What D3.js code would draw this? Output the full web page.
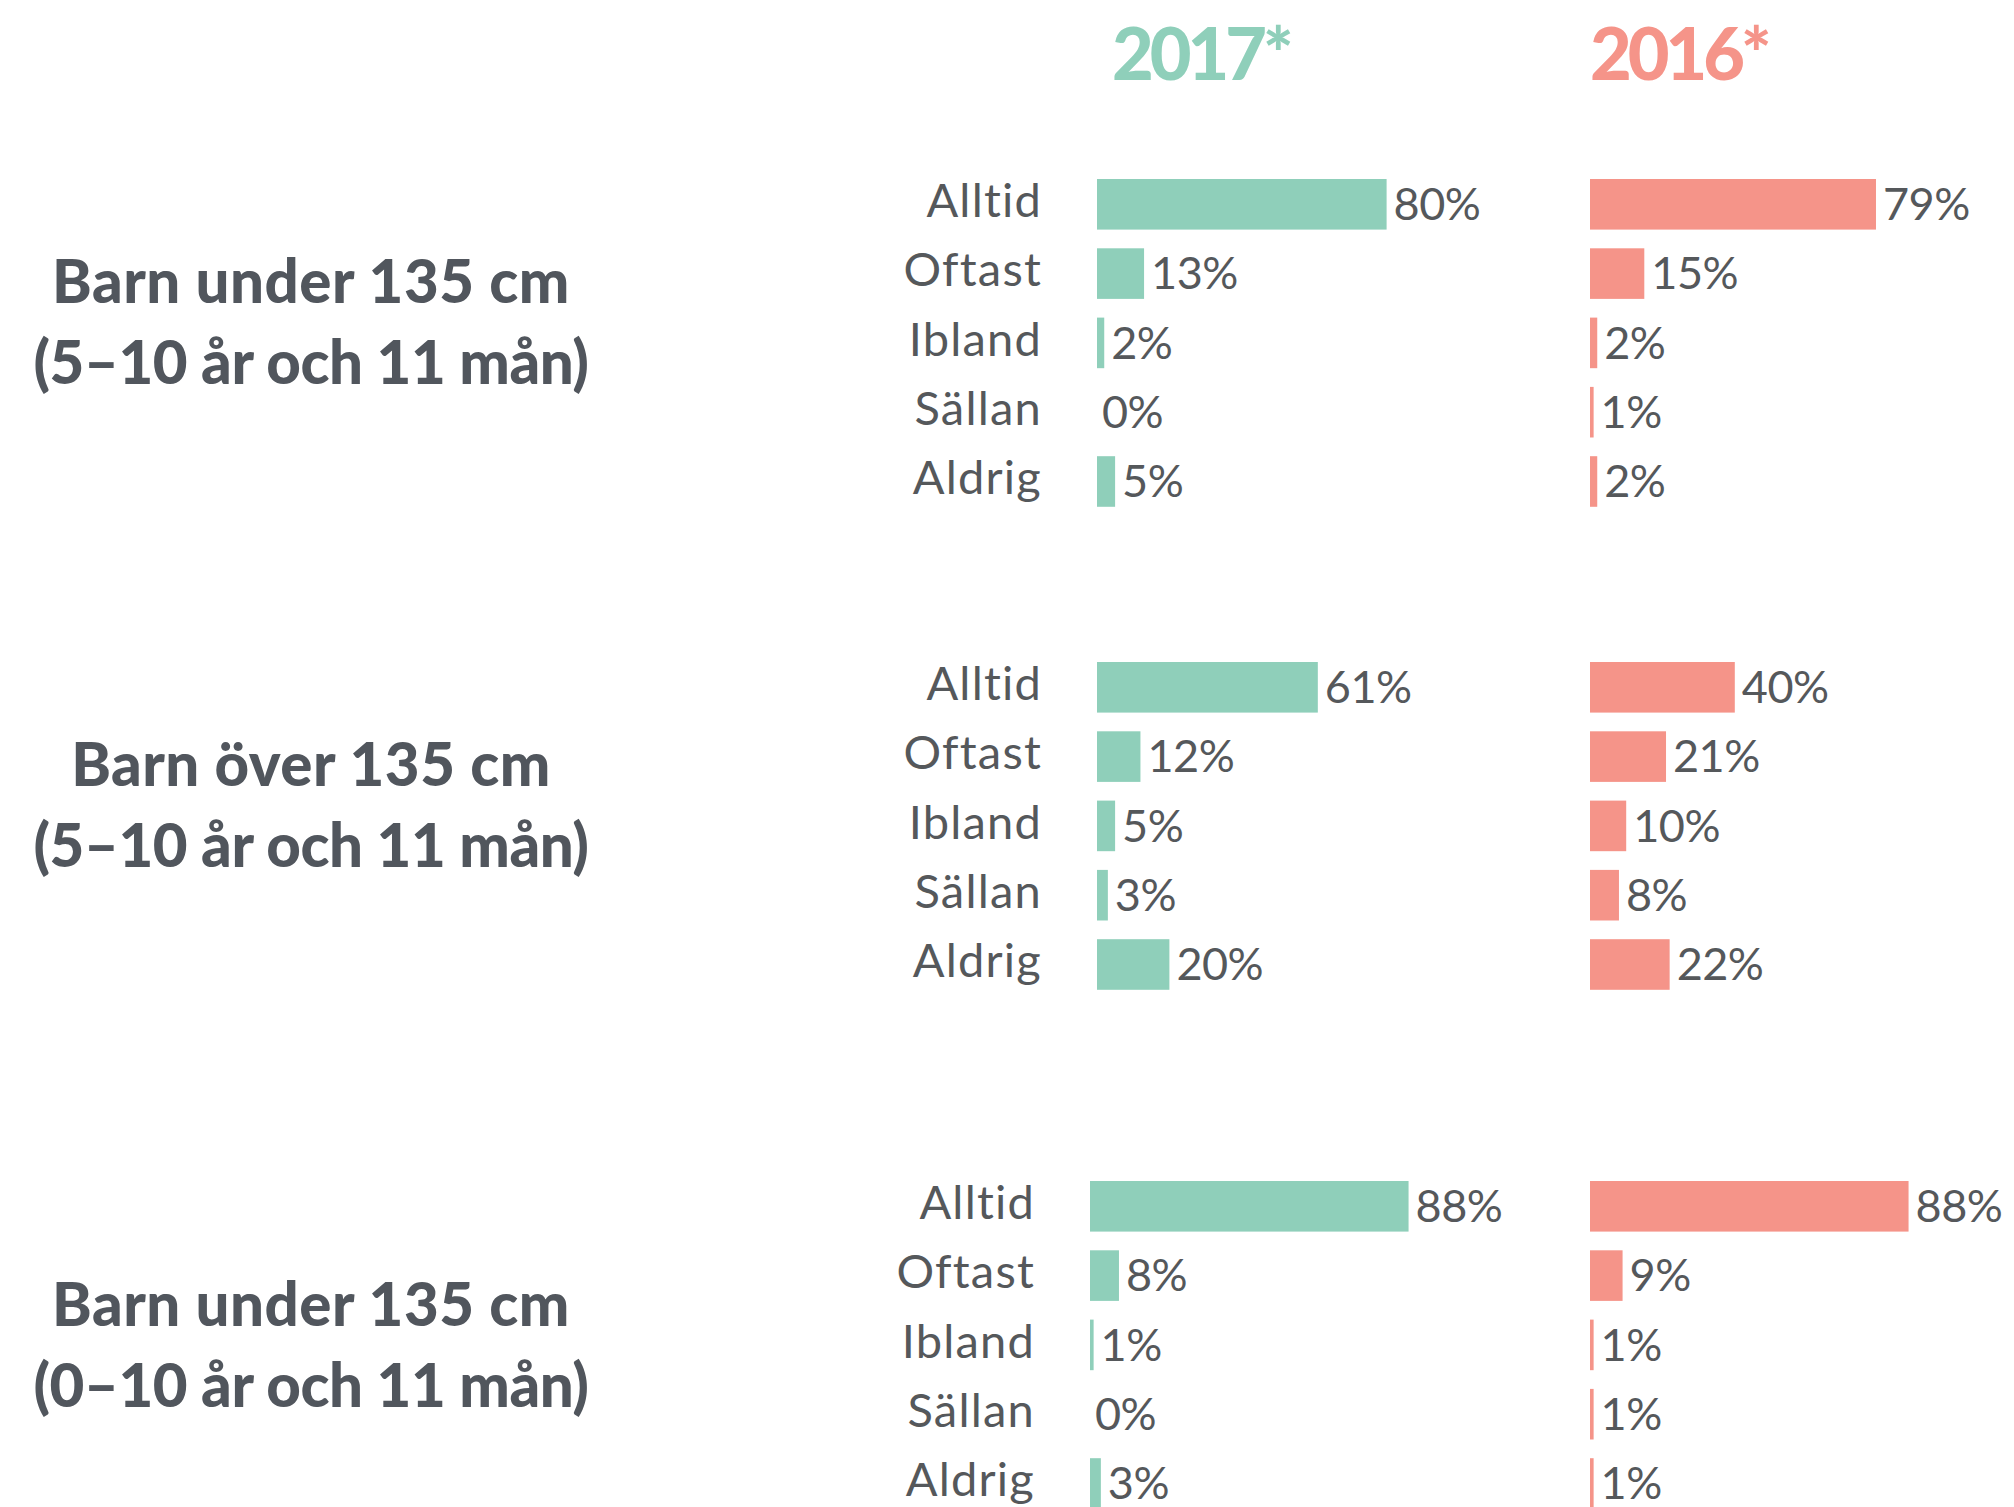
<!DOCTYPE html>
<html>
<head>
<meta charset="utf-8">
<script src="https://cdn.jsdelivr.net/npm/d3@7"></script>
<style>
  body { margin: 0; background: #fff; }
  svg { display: block; }
</style>
</head>
<body>
<svg id="chart" width="2014" height="1507"></svg>
<script>
//-------------------------------data---------------------------------

const categories = ["Alltid", "Oftast", "Ibland", "Sällan", "Aldrig"];
const years = ["2017*", "2016*"];
const groupTitles = [
  ["Barn under 135 cm", "(5–10 år och 11 mån)"],
  ["Barn över 135 cm", "(5–10 år och 11 mån)"],
  ["Barn under 135 cm", "(0–10 år och 11 mån)"]
];
const values2017 = [
  [80, 13, 2, 0, 5],
  [61, 12, 5, 3, 20],
  [88, 8, 1, 0, 3]
];
const values2016 = [
  [79, 15, 2, 1, 2],
  [40, 21, 10, 8, 22],
  [88, 9, 1, 1, 1]
];

//-------------------------------layout-------------------------------

const colors = ["#8fcfba", "#f59489"];
const textColor = "#55585b";
const titleColor = "#51565d";
const panelTops = [179, 662, 1181];
const barLeft2017 = [1097, 1097, 1090];
const barLeft2016 = 1590;
const titleBaselines = [[124, 205], [124, 205], [145, 226]];
const rowStep = 69.3;

const svg = d3.select("#chart");

//Percent -> pixel width, same for both years
const x = d3.scaleLinear().domain([0, 100]).range([0, 362]);

//Year headers
svg.selectAll("text.year")
  .data(years)
  .join("text")
    .attr("class", "year")
    .attr("x", (d, i) => i === 0 ? 1112 : 1590)
    .attr("y", 80)
    .style("font-family", "Lato")
    .style("font-weight", 900)
    .style("font-size", "72px")
    .style("letter-spacing", "-4px")
    .style("fill", (d, i) => colors[i])
    .text(d => d);

groupTitles.forEach((title, g) => {
  let top = panelTops[g];
  //step of the band scale is rowStep, bars take 73% of it
  let y = d3.scaleBand()
    .domain(categories)
    .range([top, top + rowStep * (categories.length - 0.27)])
    .paddingInner(0.27)
    .paddingOuter(0);

  let panel = svg.append("g").attr("class", "panel");

  //Group title, two lines centred on the left
  panel.selectAll("text.title")
    .data(title)
    .join("text")
      .attr("class", "title")
      .attr("x", 311)
      .attr("y", (d, i) => top + titleBaselines[g][i])
      .attr("text-anchor", "middle")
      .style("font-family", "Lato")
      .style("font-weight", 900)
      .style("font-size", "60px")
      .style("letter-spacing", (d, i) => i === 0 ? "0.5px" : "-0.4px")
      .style("fill", titleColor)
      .text(d => d);

  //Category labels, right aligned before the 2017 bars
  panel.selectAll("text.cat")
    .data(categories)
    .join("text")
      .attr("class", "cat")
      .attr("x", barLeft2017[g] - 55)
      .attr("y", d => y(d) + 38)
      .attr("text-anchor", "end")
      .style("font-family", "Lato")
      .style("font-size", "47px")
      .style("letter-spacing", "1.2px")
      .style("fill", textColor)
      .text(d => d);

  //Both years side by side
  [values2017[g], values2016[g]].forEach((vals, k) => {
    let left = k === 0 ? barLeft2017[g] : barLeft2016;

    panel.selectAll(`rect.bar${k}`)
      .data(vals)
      .join("rect")
        .attr("class", `bar${k}`)
        .attr("x", left)
        .attr("y", (d, i) => y(categories[i]))
        .attr("width", d => x(d))
        .attr("height", y.bandwidth())
        .style("fill", colors[k]);

    panel.selectAll(`text.val${k}`)
      .data(vals)
      .join("text")
        .attr("class", `val${k}`)
        .attr("x", d => left + x(d) + (d === 0 ? 5 : 7))
        .attr("y", (d, i) => y(categories[i]) + 41)
        .style("font-family", "Lato")
        .style("font-size", "45px")
        .style("letter-spacing", "-0.5px")
        .style("fill", textColor)
        .text(d => d + "%");
  });
});
</script>
</body>
</html>
